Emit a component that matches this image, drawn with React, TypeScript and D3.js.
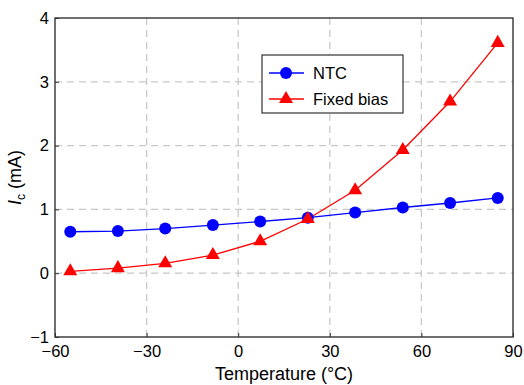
import React, { useEffect, useRef } from 'react';
import * as d3 from 'd3';

const temps = [-55, -39.4, -23.9, -8.3, 7.2, 22.8, 38.3, 53.9, 69.4, 85];
const ntc = [0.65, 0.66, 0.7, 0.755, 0.81, 0.87, 0.95, 1.03, 1.1, 1.18];
const fixedBias = [0.03, 0.08, 0.155, 0.285, 0.5, 0.85, 1.3, 1.93, 2.69, 3.61];
const xTicks = [-60, -30, 0, 30, 60, 90];
const yTicks = [-1, 0, 1, 2, 3, 4];

const W = 524;
const H = 385;

const App: React.FC = () => {
  const svgRef = useRef<SVGSVGElement>(null);

  useEffect(() => {
    if (!svgRef.current) return;
    const root = d3.select(svgRef.current);
    root.selectAll('*').remove();

    const margin = { top: 18, right: 11, bottom: 48, left: 55 };
    const width = W - margin.left - margin.right;
    const height = H - margin.top - margin.bottom;
    const font = '"Liberation Sans", Arial, sans-serif';

    const svg = root
      .append('g')
      .attr('transform', `translate(${margin.left},${margin.top})`);

    const x = d3.scaleLinear().domain([-60, 90]).range([0, width]);
    const y = d3.scaleLinear().domain([-1, 4]).range([height, 0]);

    // Grid
    svg
      .append('g')
      .selectAll('line')
      .data(xTicks.slice(1, -1))
      .enter()
      .append('line')
      .attr('x1', d => x(d))
      .attr('x2', d => x(d))
      .attr('y1', 0)
      .attr('y2', height)
      .attr('stroke', '#c8c8c8')
      .attr('stroke-width', 1.3)
      .attr('stroke-dasharray', '7,5');

    svg
      .append('g')
      .selectAll('line')
      .data(yTicks.slice(1, -1))
      .enter()
      .append('line')
      .attr('x1', 0)
      .attr('x2', width)
      .attr('y1', d => y(d))
      .attr('y2', d => y(d))
      .attr('stroke', '#c8c8c8')
      .attr('stroke-width', 1.3)
      .attr('stroke-dasharray', '7,5');

    // Axes (inward ticks)
    const fmt = (d: d3.NumberValue) => d3.format('d')(d as number).replace('-', '\u2212');
    const xAxis = svg
      .append('g')
      .attr('transform', `translate(0,${height})`)
      .call(d3.axisBottom(x).tickValues(xTicks).tickSizeInner(-4).tickSizeOuter(0).tickPadding(8).tickFormat(fmt));
    const yAxis = svg
      .append('g')
      .call(d3.axisLeft(y).tickValues(yTicks).tickSizeInner(-4).tickSizeOuter(0).tickPadding(6).tickFormat(fmt));

    [xAxis, yAxis].forEach(a => {
      a.select('.domain').remove();
      a.selectAll('.tick line').attr('stroke', '#333').attr('stroke-width', 1);
      a.selectAll('.tick text').attr('font-family', font).attr('font-size', 16.5).attr('fill', '#000');
    });

    // Frame
    svg
      .append('rect')
      .attr('width', width)
      .attr('height', height)
      .attr('fill', 'none')
      .attr('stroke', '#333')
      .attr('stroke-width', 1.4);

    // Lines
    const line = d3
      .line<number>()
      .x((d, i) => x(temps[i]))
      .y(d => y(d));

    svg
      .append('path')
      .datum(ntc)
      .attr('fill', 'none')
      .attr('stroke', '#0000ff')
      .attr('stroke-width', 1.3)
      .attr('d', line);

    svg
      .append('path')
      .datum(fixedBias)
      .attr('fill', 'none')
      .attr('stroke', '#ff0000')
      .attr('stroke-width', 1.3)
      .attr('d', line);

    const tri = d3.symbol().type(d3.symbolTriangle).size(85);

    svg
      .selectAll('.ntc')
      .data(ntc)
      .enter()
      .append('circle')
      .attr('cx', (d, i) => x(temps[i]))
      .attr('cy', d => y(d))
      .attr('r', 6)
      .attr('fill', '#0000ff');

    svg
      .selectAll('.fb')
      .data(fixedBias)
      .enter()
      .append('path')
      .attr('d', tri)
      .attr('transform', (d, i) => `translate(${x(temps[i])},${y(d)})`)
      .attr('fill', '#ff0000');

    // Axis labels
    svg
      .append('text')
      .attr('x', width / 2)
      .attr('y', height + 43)
      .attr('text-anchor', 'middle')
      .attr('font-family', font)
      .attr('font-size', 18)
      .text('Temperature (°C)');

    const yl = svg
      .append('text')
      .attr('transform', `translate(${-34},${height / 2}) rotate(-90)`)
      .attr('text-anchor', 'middle')
      .attr('font-family', font)
      .attr('font-size', 18);
    yl.append('tspan').attr('font-style', 'italic').text('I');
    yl.append('tspan').attr('font-size', 12).attr('dy', 4).text('c');
    yl.append('tspan').attr('dy', -4).text(' (mA)');

    // Legend
    const lg = svg.append('g').attr('transform', `translate(${262 - margin.left},${55 - margin.top})`);
    lg.append('rect')
      .attr('width', 141)
      .attr('height', 58)
      .attr('fill', '#fff')
      .attr('stroke', '#333')
      .attr('stroke-width', 1.2);

    const entries = [
      { label: 'NTC', color: '#0000ff', shape: 'circle' },
      { label: 'Fixed bias', color: '#ff0000', shape: 'triangle' },
    ];
    entries.forEach((e, i) => {
      const cy = 18 + i * 26;
      lg.append('line')
        .attr('x1', 7)
        .attr('x2', 42)
        .attr('y1', cy)
        .attr('y2', cy)
        .attr('stroke', e.color)
        .attr('stroke-width', 1.3);
      if (e.shape === 'circle') {
        lg.append('circle').attr('cx', 24).attr('cy', cy).attr('r', 6).attr('fill', e.color);
      } else {
        lg.append('path').attr('d', tri).attr('transform', `translate(24,${cy})`).attr('fill', e.color);
      }
      lg.append('text')
        .attr('x', 51)
        .attr('y', cy)
        .attr('dy', '0.35em')
        .attr('font-family', font)
        .attr('font-size', 16.5)
        .text(e.label);
    });
  }, []);

  return (
    <div style={{ position: 'absolute', left: 0, top: 0 }}>
      <svg ref={svgRef} width={W} height={H} style={{ display: 'block', background: '#fff' }}></svg>
    </div>
  );
};

export default App;
